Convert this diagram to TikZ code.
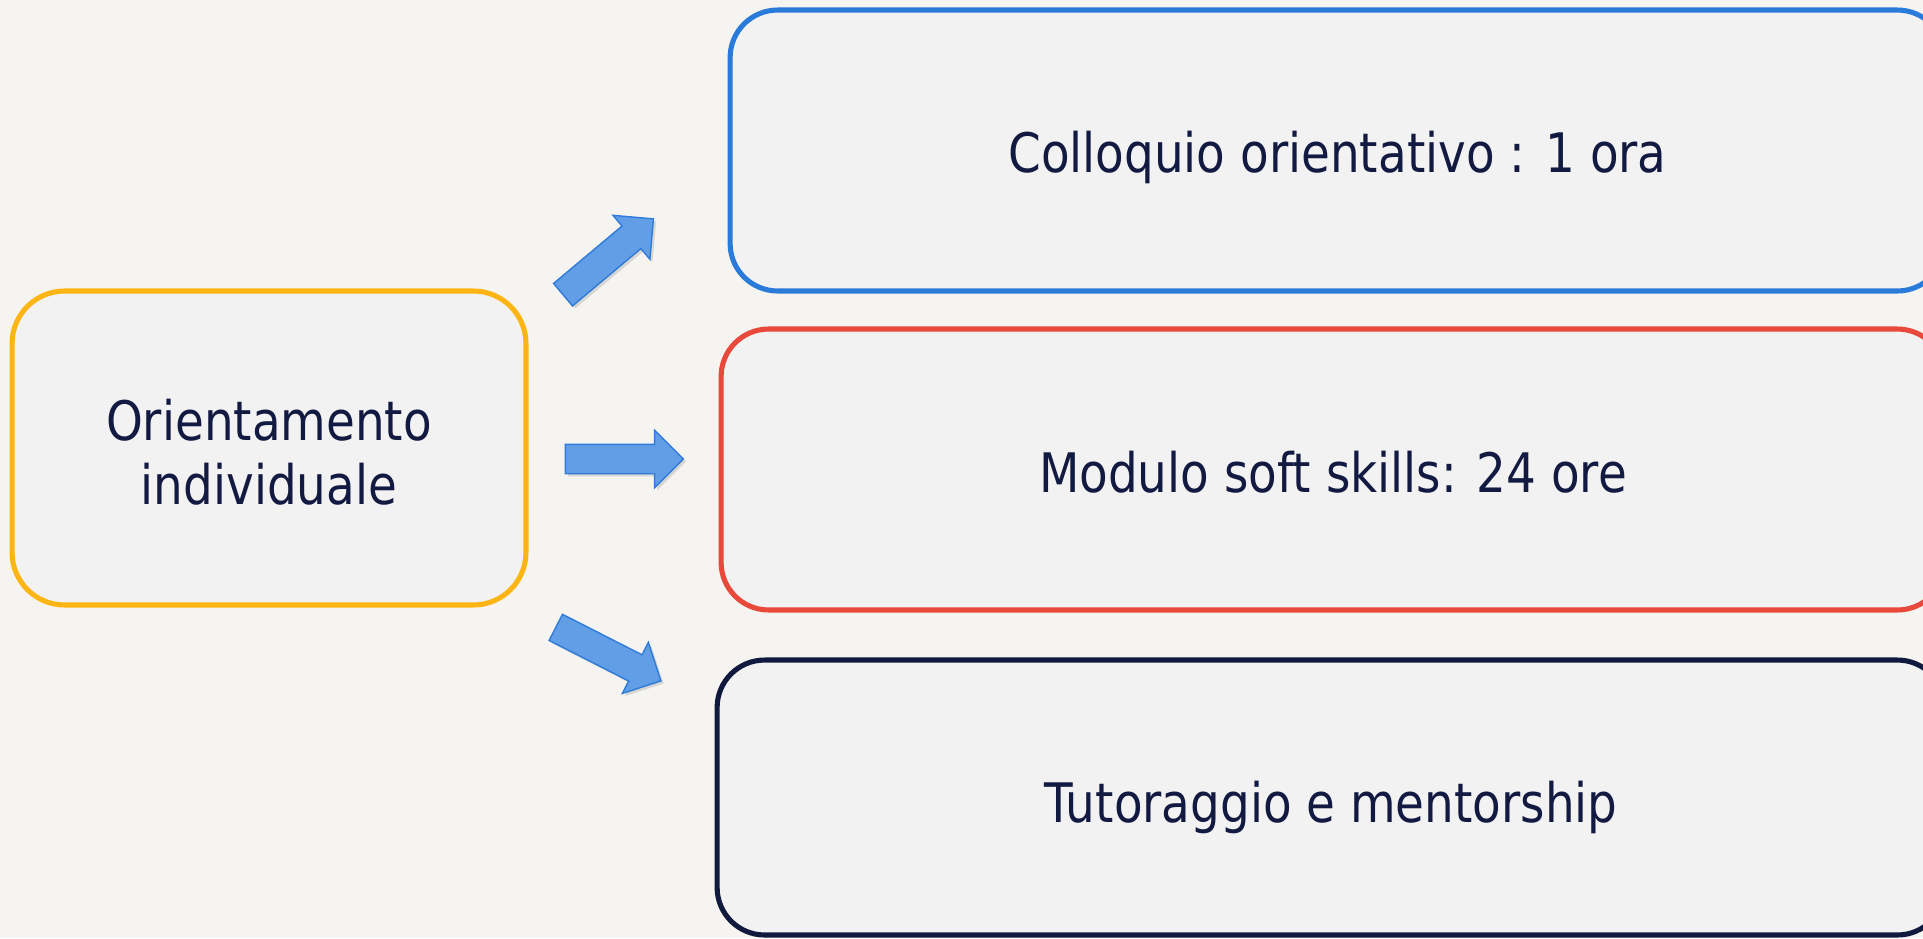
\documentclass[tikz,border=0pt]{standalone}
\usepackage{fontspec}
\setmainfont{DejaVu Sans}[FakeStretch=0.86]
\usetikzlibrary{positioning,shapes.arrows,shadows}
\definecolor{bgpaper}{HTML}{F5F4F0}
\definecolor{boxfill}{HTML}{F2F2F2}
\definecolor{ink}{HTML}{121A42}
\definecolor{gold}{HTML}{FDB515}
\definecolor{skyline}{HTML}{2A7BD9}
\definecolor{redline}{HTML}{E8493A}
\definecolor{navyline}{HTML}{101A3E}
\definecolor{arrowfill}{HTML}{629EE5}
\definecolor{arrowline}{HTML}{2F7BDA}

\begin{document}
\begin{tikzpicture}[x=0.02cm,y=-0.02cm,
  box/.style={rectangle,rounded corners=0.95cm,line width=2.9pt,fill=boxfill,text=ink,
    inner sep=0pt,align=center,font=\fontsize{31}{36}\selectfont},
  blockarrow/.style={single arrow,draw=arrowline,fill=arrowfill,line width=0.8pt,
    minimum height=2.36cm,inner xsep=0pt,inner ysep=0.28cm,
    single arrow head extend=0.28cm,single arrow head indent=0pt,
    drop shadow={opacity=0.25,shadow xshift=1.5pt,shadow yshift=-1.5pt}}]
  \useasboundingbox (0,0) rectangle (1923,938);
  \clip (0,0) rectangle (1923,938);
  \fill[bgpaper] (0,0) rectangle (1923,938);

  % left box
  \node[box,draw=gold,rounded corners=1.05cm,minimum width=10.28cm,minimum height=6.28cm] (orient) at (269,448)
    {\rule{0pt}{0.99cm}Orientamento\\individuale};

  % right boxes
  \node[box,draw=skyline,text height=0.86cm,text depth=0cm,minimum width=24.3cm,minimum height=5.62cm]  (colloquio) at (1337.5,150.5)
    {Colloquio orientativo : 1 ora};
  \node[box,draw=redline,text height=0.9cm,text depth=0cm,minimum width=24.48cm,minimum height=5.62cm] (soft) at (1333,469.5)
    {Modulo soft skills: 24 ore};
  \node[box,draw=navyline,text height=0.98cm,text depth=0cm,minimum width=24.56cm,minimum height=5.5cm] (tutor) at (1331,797.5)
    {Tutoraggio e mentorship};

  % arrows
  \node[blockarrow,rotate=40]  (arrup)   at (602.6,261.5) {};
  \node[blockarrow]            (arrmid)  at (617,459) {};
  \node[blockarrow,rotate=-27] (arrdown) at (601.8,650.8) {};
\end{tikzpicture}
\end{document}
